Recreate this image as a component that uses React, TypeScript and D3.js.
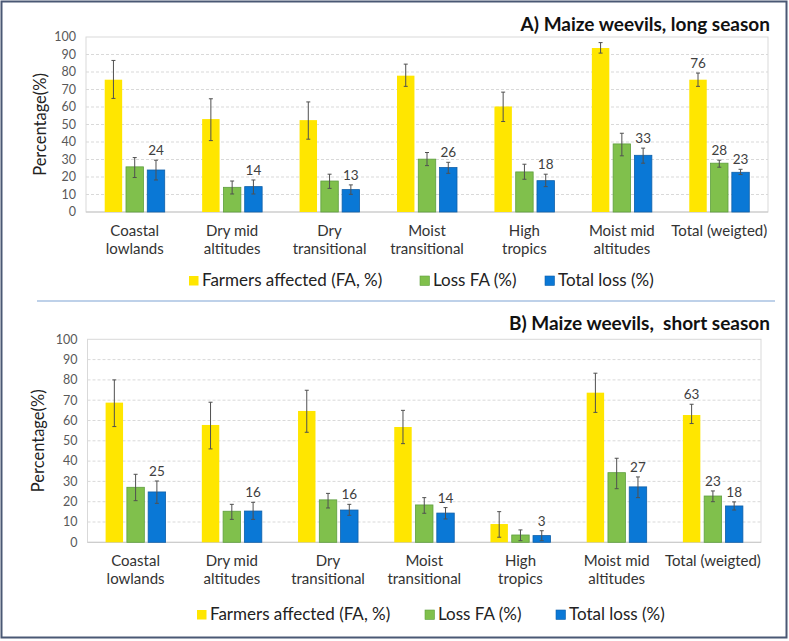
import * as d3 from 'd3';

const categories = [
  ['Coastal', 'lowlands'],
  ['Dry mid', 'altitudes'],
  ['Dry', 'transitional'],
  ['Moist', 'transitional'],
  ['High', 'tropics'],
  ['Moist mid', 'altitudes'],
  ['Total (weigted)'],
];
const seriesNames = ['Farmers affected (FA, %)', 'Loss FA (%)', 'Total loss (%)'];
const yTicks = [0, 10, 20, 30, 40, 50, 60, 70, 80, 90, 100];

// A) long season
const faLong = [75.6, 53.1, 52.5, 77.9, 60.3, 93.7, 75.6];
const faLongLo = [64.9, 40.8, 41.6, 71.8, 51.7, 90.8, 71.8];
const faLongHi = [86.6, 64.7, 62.9, 84.5, 68.5, 96.8, 79.4];
const lossLong = [25.8, 14.1, 17.7, 30.2, 22.9, 38.9, 27.9];
const lossLongLo = [19.7, 10.3, 13.5, 26.5, 18.7, 32.1, 25.6];
const lossLongHi = [31.1, 17.7, 21.6, 34.0, 27.3, 45.0, 29.6];
const totLong = [24.0, 14.5, 12.8, 25.4, 17.9, 32.4, 22.7];
const totLongLo = [18.3, 10.3, 10.1, 22.1, 14.5, 27.9, 21.4];
const totLongHi = [29.6, 18.3, 15.5, 28.4, 21.6, 36.5, 24.4];
const faLongLabels = [null, null, null, null, null, null, 76];
const lossLongLabels = [null, null, null, null, null, null, 28];
const totLongLabels = [24, 14, 13, 26, 18, 33, 23];

// B) short season
const faShort = [68.8, 57.8, 64.7, 56.8, 9.0, 73.7, 62.7];
const faShortLo = [57.0, 46.0, 54.2, 48.6, 2.5, 64.0, 58.5];
const faShortHi = [80.0, 69.0, 74.9, 65.0, 15.1, 83.3, 68.0];
const lossShort = [27.1, 15.3, 20.9, 18.4, 3.6, 34.3, 22.8];
const lossShortLo = [20.5, 11.3, 16.9, 14.3, 0.8, 26.4, 20.0];
const lossShortHi = [33.5, 18.7, 24.1, 22.0, 6.1, 41.4, 25.3];
const totShort = [24.8, 15.4, 15.9, 14.4, 3.3, 27.3, 17.9];
const totShortLo = [19.2, 11.3, 13.3, 11.5, 0.8, 22.0, 15.9];
const totShortHi = [30.2, 19.7, 18.7, 17.1, 5.7, 32.2, 19.9];
const faShortLabels = [null, null, null, null, null, null, 63];
const lossShortLabels = [null, null, null, null, null, null, 23];
const totShortLabels = [25, 16, 16, 14, 3, 27, 18];

const fills = ['#ffe600', '#80c04c', '#0a78d6'];
const strokes = ['none', '#5e9e3e', '#0f5fa8'];
const FONT = 'Lato, "Liberation Sans", sans-serif';

type Series = { values: number[]; lo: number[]; hi: number[]; labels: (number | null)[] };

interface PanelProps {
  title: string;
  series: Series[];
  left: number;
  right: number;
  top: number;
  bottom: number;
  titleY: number;
  yTitleX: number;
  catY: number;
  legendY: number;
  legendX: number[];
}

function Panel({ title, series, left, right, top, bottom, titleY, yTitleX, catY, legendY, legendX }: PanelProps) {
  const x = d3.scaleBand<number>().domain(d3.range(categories.length)).range([left, right]);
  const xs = d3.scaleBand<number>().domain([0, 1, 2]).range([-30, 30]).paddingInner(0.18);
  const y = d3.scaleLinear().domain([0, 100]).range([bottom, top]);
  const cx = (i: number) => x(i)! + x.bandwidth() / 2;

  return (
    <g fontFamily={FONT}>
      <text
        x={770}
        y={titleY}
        textAnchor="end"
        fontSize={19}
        fontWeight="bold"
        fill="#111"
        style={{ whiteSpace: 'pre' }}
      >
        {title}
      </text>

      {/* plot frame + grid */}
      <rect x={left} y={top} width={right - left} height={bottom - top} fill="none" stroke="#d9d9d9" />
      {yTicks.filter(t => t > 0 && t < 100).map(t => (
        <line key={t} x1={left} x2={right} y1={y(t)} y2={y(t)} stroke="#d9d9d9" strokeDasharray="3,2" />
      ))}
      <line x1={left} x2={right} y1={bottom} y2={bottom} stroke="#c8c8c8" />

      {yTicks.map(t => (
        <text key={t} x={left - 10} y={y(t)} dy="0.35em" textAnchor="end" fontSize={12.5} fill="#595959">
          {t}
        </text>
      ))}
      <text
        transform={`translate(${yTitleX},${(top + bottom) / 2}) rotate(-90)`}
        textAnchor="middle"
        dy="0.35em"
        fontSize={16.5}
        fill="#222"
      >
        Percentage(%)
      </text>

      {/* bars */}
      {series.map((s, k) => (
        <g key={k}>
          {s.values.map((v, i) => {
            const bx = cx(i) + xs(k)!;
            const bw = xs.bandwidth();
            const mid = bx + bw / 2;
            return (
              <g key={i}>
                <rect
                  x={bx}
                  y={y(v)}
                  width={bw}
                  height={bottom - y(v)}
                  fill={fills[k]}
                  stroke={strokes[k]}
                  strokeWidth={0.8}
                />
                <g stroke="#505050" strokeWidth={1}>
                  <line x1={mid} x2={mid} y1={y(s.lo[i])} y2={y(s.hi[i])} />
                  <line x1={mid - 2} x2={mid + 2} y1={y(s.lo[i])} y2={y(s.lo[i])} />
                  <line x1={mid - 2} x2={mid + 2} y1={y(s.hi[i])} y2={y(s.hi[i])} />
                </g>
                {s.labels[i] != null && (
                  <text x={mid} y={y(s.hi[i]) - 5} textAnchor="middle" fontSize={13.5} fill="#404040">
                    {s.labels[i]}
                  </text>
                )}
              </g>
            );
          })}
        </g>
      ))}

      {/* category labels */}
      {categories.map((lines, i) => (
        <text key={i} x={cx(i)} y={catY} textAnchor="middle" fontSize={15} fill="#333">
          {lines.map((l, j) => (
            <tspan key={j} x={cx(i)} dy={j === 0 ? 0 : 18}>
              {l}
            </tspan>
          ))}
        </text>
      ))}

      {/* legend */}
      {seriesNames.map((name, k) => (
        <g key={k} transform={`translate(${legendX[k]},${legendY})`}>
          <rect x={0} y={-10} width={9.5} height={9.5} fill={fills[k]} stroke={strokes[k]} strokeWidth={0.6} />
          <text x={13} y={0} fontSize={17} fill="#222">
            {name}
          </text>
        </g>
      ))}
    </g>
  );
}

export default function App() {
  const longSeries: Series[] = [
    { values: faLong, lo: faLongLo, hi: faLongHi, labels: faLongLabels },
    { values: lossLong, lo: lossLongLo, hi: lossLongHi, labels: lossLongLabels },
    { values: totLong, lo: totLongLo, hi: totLongHi, labels: totLongLabels },
  ];
  const shortSeries: Series[] = [
    { values: faShort, lo: faShortLo, hi: faShortHi, labels: faShortLabels },
    { values: lossShort, lo: lossShortLo, hi: lossShortHi, labels: lossShortLabels },
    { values: totShort, lo: totShortLo, hi: totShortHi, labels: totShortLabels },
  ];

  return (
    <svg
      width={789}
      height={641}
      style={{ position: 'absolute', left: 0, top: 0, background: '#fff' }}
    >
      <rect x={1.5} y={1.5} width={785} height={636} fill="#fff" stroke="#4a5874" strokeWidth={2} />
      <line x1={37} x2={775} y1={301} y2={301} stroke="#a9c2e2" strokeWidth={1.5} />
      <Panel
        title="A) Maize weevils, long season"
        series={longSeries}
        left={86}
        right={768}
        top={37}
        bottom={212}
        titleY={30.5}
        yTitleX={40}
        catY={236}
        legendY={286}
        legendX={[189, 420, 545]}
      />
      <Panel
        title="B) Maize weevils,  short season"
        series={shortSeries}
        left={87.5}
        right={761}
        top={339.3}
        bottom={542.3}
        titleY={330}
        yTitleX={38}
        catY={566}
        legendY={620}
        legendX={[197, 425, 556]}
      />
    </svg>
  );
}
